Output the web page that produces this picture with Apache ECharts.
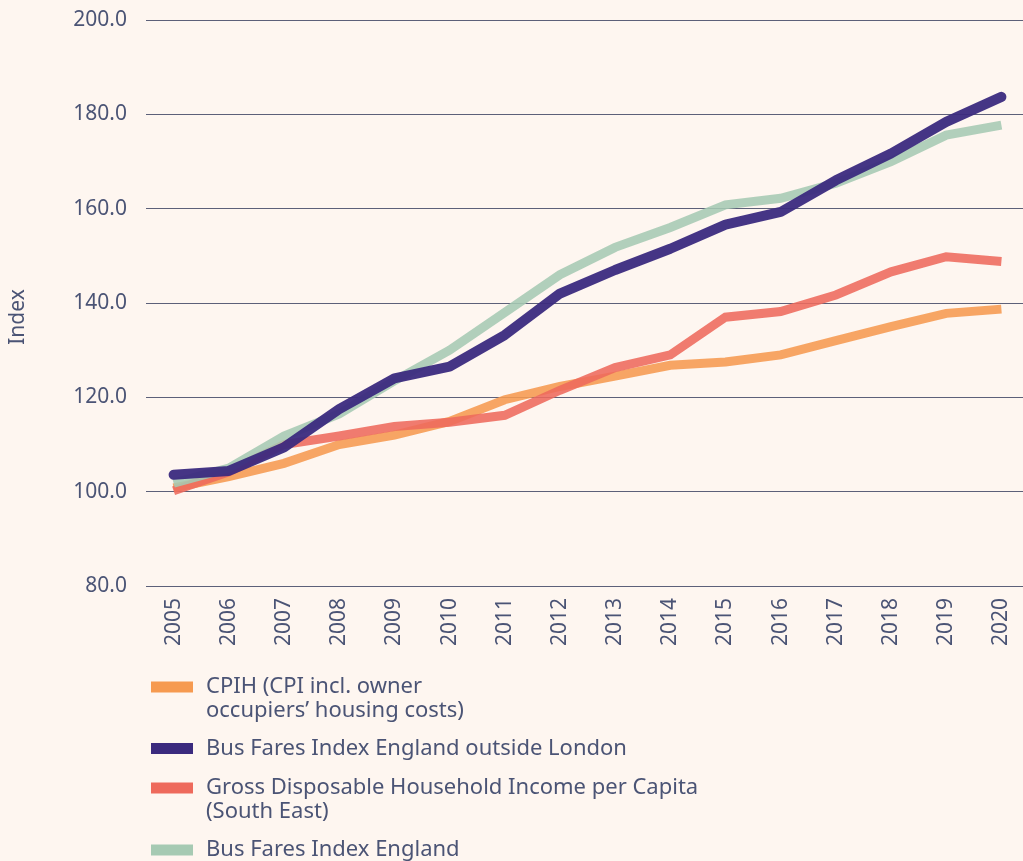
<!DOCTYPE html>
<html>
<head>
<meta charset="utf-8">
<script src="https://cdn.jsdelivr.net/npm/echarts@6/dist/echarts.min.js"></script>
<style>
  html, body { margin: 0; padding: 0; background: #fef6f0; }
  #chart { width: 1023px; height: 861px; }
</style>
</head>
<body>
<div id="chart"></div>
<script>
// data
const years = ['2005', '2006', '2007', '2008', '2009', '2010', '2011', '2012',
  '2013', '2014', '2015', '2016', '2017', '2018', '2019', '2020'];
const cpih = [100.8, 103.2, 106.0, 110.0, 112.0, 114.9, 119.5, 122.3, 124.5, 126.8, 127.5, 129.0, 132.0, 135.0, 137.8, 138.7];
const busOutsideLondon = [103.6, 104.4, 109.4, 117.5, 124.0, 126.5, 133.2, 142.0, 147.0, 151.5, 156.6, 159.3, 166.0, 171.7, 178.4, 183.7];
const gdhiSouthEast = [100.2, 104.2, 110.0, 111.8, 113.8, 114.7, 116.2, 121.5, 126.3, 129.0, 137.0, 138.2, 141.7, 146.6, 149.8, 148.8];
const busEngland = [101.8, 105.0, 111.8, 116.5, 123.5, 130.0, 138.0, 146.0, 151.8, 156.0, 160.8, 162.2, 165.4, 170.0, 175.6, 177.7];

const names = {
  cpih: 'CPIH (CPI incl. owner occupiers’ housing costs)',
  busOut: 'Bus Fares Index England outside London',
  gdhi: 'Gross Disposable Household Income per Capita (South East)',
  busEng: 'Bus Fares Index England'
};
// leading blank line keeps the first line level with the icon
const wrapped = {
  [names.cpih]: ' \nCPIH (CPI incl. owner\noccupiers’ housing costs)',
  [names.gdhi]: ' \nGross Disposable Household Income per Capita\n(South East)'
};

const textColor = '#4b5475';
const font = 'Noto Sans';

const chart = echarts.init(document.getElementById('chart'));

// one legend per item, stacked by hand
const makeLegend = (name, top) => ({
  data: [name],
  orient: 'vertical',
  left: 151,
  top: top,
  padding: 0,
  itemWidth: 42,
  itemHeight: 11,
  icon: 'rect',
  selectedMode: false,
  formatter: n => wrapped[n] || n,
  textStyle: {
    fontFamily: font,
    fontSize: 22,
    color: textColor,
    lineHeight: 24,
    padding: [0, 0, 0, 8]
  }
});

const lineSeries = (name, data, color, opts) => Object.assign({
  name: name,
  type: 'line',
  data: data,
  symbol: 'none',
  itemStyle: { color: color },
  lineStyle: { width: 9, color: color, opacity: 0.88, cap: 'butt', join: 'miter' }
}, opts || {});

chart.setOption({
  backgroundColor: '#fef6f0',
  animation: false,
  textStyle: { fontFamily: font },
  grid: { left: 146, top: 20, width: 883, height: 566, outerBoundsMode: 'none', containLabel: false },
  legend: [
    makeLegend(names.cpih, 651),
    makeLegend(names.busOut, 736.5),
    makeLegend(names.gdhi, 752),
    makeLegend(names.busEng, 838)
  ],
  xAxis: {
    type: 'category',
    data: years,
    boundaryGap: true,
    axisLine: { show: false },
    axisTick: { show: false },
    axisLabel: { rotate: 90, margin: 12, fontSize: 21, color: textColor, fontFamily: font }
  },
  yAxis: {
    type: 'value',
    min: 80,
    max: 200,
    interval: 20,
    name: 'Index',
    nameLocation: 'middle',
    nameGap: 117,
    nameTextStyle: { fontSize: 21, color: textColor, fontFamily: font, padding: [0, 28, 0, 0] },
    axisLine: { show: false },
    axisTick: { show: false },
    axisLabel: {
      margin: 19,
      fontSize: 21,
      color: textColor,
      fontFamily: font,
      formatter: v => v.toFixed(1)
    },
    splitLine: { lineStyle: { color: '#5d6079', width: 1 } }
  },
  series: [
    lineSeries(names.cpih, cpih, '#f69a50'),
    lineSeries(names.gdhi, gdhiSouthEast, '#ee6a5c'),
    lineSeries(names.busEng, busEngland, '#a6cab3'),
    lineSeries(names.busOut, busOutsideLondon, '#3b2a7e', {
      lineStyle: { width: 10, color: '#3b2a7e', opacity: 0.95, cap: 'round', join: 'round' }
    })
  ]
});

window.addEventListener('resize', () => chart.resize());
</script>
</body>
</html>
